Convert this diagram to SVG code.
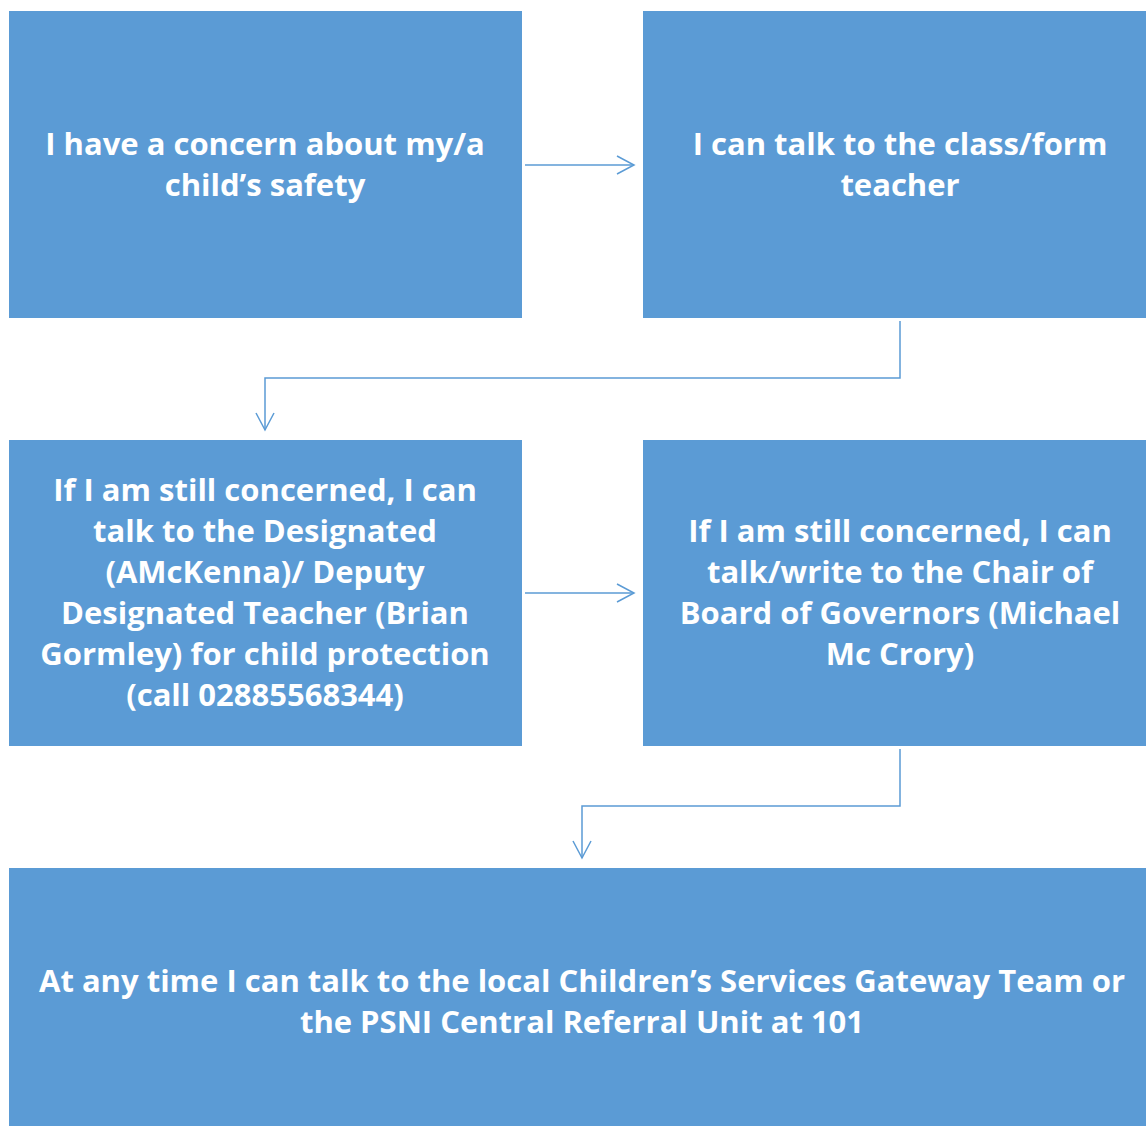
<svg xmlns="http://www.w3.org/2000/svg" width="1146" height="1126" viewBox="0 0 1146 1126">
<defs>
<style>
.box{fill:#5B9BD5;}
.t{font-family:"Open Sans","Noto Sans",sans-serif;font-weight:bold;font-size:31px;fill:#FFFFFF;text-anchor:middle;}
.c{fill:none;stroke:#5B9BD5;stroke-width:1.5;}
</style>
<marker id="ah" viewBox="0 0 20 20" refX="18" refY="10" markerWidth="20" markerHeight="20" markerUnits="userSpaceOnUse" orient="auto">
<path d="M1,1 L18,10 L1,19" fill="none" stroke="#5B9BD5" stroke-width="1.5"/>
</marker>
</defs>
<rect width="1146" height="1126" fill="#FFFFFF"/>
<g id="connectors">
<path class="c" d="M525,165 H634" marker-end="url(#ah)"/>
<path class="c" d="M900,321 V378 H265 V430" marker-end="url(#ah)"/>
<path class="c" d="M525,593 H634" marker-end="url(#ah)"/>
<path class="c" d="M900,749 V806 H582 V858" marker-end="url(#ah)"/>
</g>
<g id="node1">
<rect class="box" x="9" y="11" width="513" height="307"/>
<text class="t" x="265" y="155">I have a concern about my/a</text>
<text class="t" x="265" y="196">child’s safety</text>
</g>
<g id="node2">
<rect class="box" x="643" y="11" width="503" height="307"/>
<text class="t" x="900" y="155">I can talk to the class/form</text>
<text class="t" x="900" y="196">teacher</text>
</g>
<g id="node3">
<rect class="box" x="9" y="440" width="513" height="306"/>
<text class="t" x="265" y="501">If I am still concerned, I can</text>
<text class="t" x="265" y="542">talk to the Designated</text>
<text class="t" x="265" y="583">(AMcKenna)/ Deputy</text>
<text class="t" x="265" y="624">Designated Teacher (Brian</text>
<text class="t" x="265" y="665">Gormley) for child protection</text>
<text class="t" x="265" y="706">(call 02885568344)</text>
</g>
<g id="node4">
<rect class="box" x="643" y="440" width="503" height="306"/>
<text class="t" x="900" y="542">If I am still concerned, I can</text>
<text class="t" x="900" y="583">talk/write to the Chair of</text>
<text class="t" x="900" y="624">Board of Governors (Michael</text>
<text class="t" x="900" y="665">Mc Crory)</text>
</g>
<g id="node5">
<rect class="box" x="9" y="868" width="1137" height="258"/>
<text class="t" x="582" y="992">At any time I can talk to the local Children’s Services Gateway Team or</text>
<text class="t" x="582" y="1033">the PSNI Central Referral Unit at 101</text>
</g>
</svg>
